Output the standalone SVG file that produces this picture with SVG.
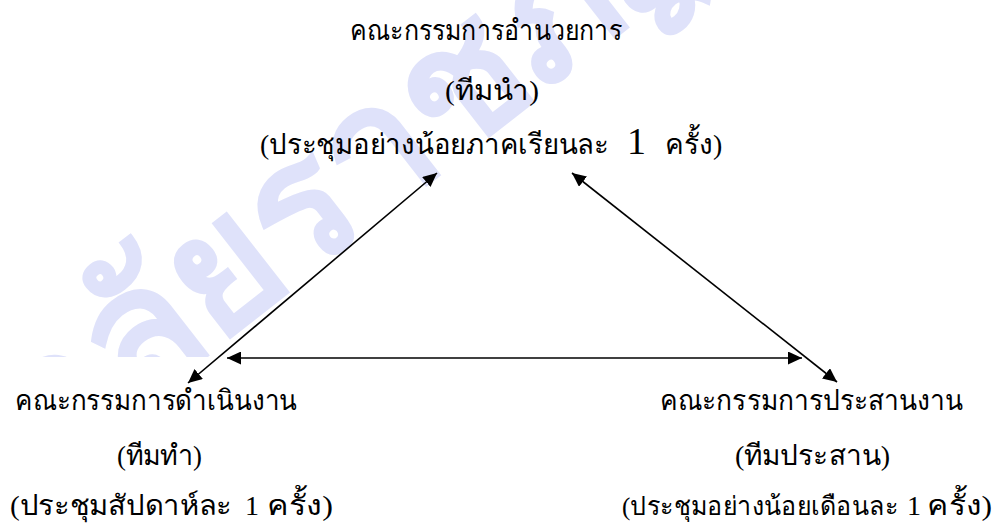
<svg xmlns="http://www.w3.org/2000/svg" width="1003" height="530" viewBox="0 0 1003 530">
<style>
  .t { font-family: "Liberation Serif", serif; font-size: 28px; fill: #000; }
  .wm { font-family: "Liberation Sans", sans-serif; font-size: 175px; font-weight: bold; fill: #dfe2fa; }
  .c { stroke: #000; stroke-width: 1.6; fill: none; }
</style>
<defs>
  <marker id="ah" viewBox="0 0 14 13" refX="14" refY="6.5" markerWidth="14" markerHeight="13" markerUnits="userSpaceOnUse" orient="auto-start-reverse">
    <path d="M0,0 L14,6.5 L0,13 z" fill="#000"/>
  </marker>
  <clipPath id="wmclip"><rect x="0" y="0" width="1003" height="357"/></clipPath>
</defs>
<rect width="1003" height="530" fill="#fff"/>
<g id="watermark" clip-path="url(#wmclip)">
  <text class="wm" transform="translate(133,412) rotate(-38)"><tspan x="0" y="0" text-anchor="end">วิทยา</tspan><tspan x="0" y="0" text-anchor="start">ลัยราชภัฏ</tspan></text>
</g>
<g id="node-top">
  <text class="t" x="350" y="40" textLength="272" lengthAdjust="spacingAndGlyphs">คณะกรรมการอำนวยการ</text>
  <text class="t" x="445" y="100" textLength="94" lengthAdjust="spacingAndGlyphs">(ทีมนำ)</text>
  <text class="t" y="154"><tspan x="260" textLength="349" lengthAdjust="spacingAndGlyphs">(ประชุมอย่างน้อยภาคเรียนละ</tspan><tspan x="627" font-size="38">1</tspan><tspan x="665">ครั้ง)</tspan></text>
</g>
<g id="node-left">
  <text class="t" x="15" y="410" textLength="282" lengthAdjust="spacingAndGlyphs">คณะกรรมการดำเนินงาน</text>
  <text class="t" x="117" y="465" textLength="85" lengthAdjust="spacingAndGlyphs">(ทีมทำ)</text>
  <text class="t" y="515"><tspan x="10" textLength="222" lengthAdjust="spacingAndGlyphs">(ประชุมสัปดาห์ละ</tspan><tspan x="245">1</tspan><tspan x="267" textLength="66" lengthAdjust="spacingAndGlyphs">ครั้ง)</tspan></text>
</g>
<g id="node-right">
  <text class="t" x="660" y="410" textLength="303" lengthAdjust="spacingAndGlyphs">คณะกรรมการประสานงาน</text>
  <text class="t" x="735" y="465" textLength="155" lengthAdjust="spacingAndGlyphs">(ทีมประสาน)</text>
  <text class="t" y="515"><tspan x="622" font-size="26" textLength="276" lengthAdjust="spacingAndGlyphs">(ประชุมอย่างน้อยเดือนละ</tspan><tspan x="907">1</tspan><tspan x="927" textLength="65" lengthAdjust="spacingAndGlyphs">ครั้ง)</tspan></text>
</g>
<g id="connectors">
  <line class="c" x1="437" y1="173" x2="188" y2="383" marker-start="url(#ah)" marker-end="url(#ah)"/>
  <line class="c" x1="572" y1="173" x2="837" y2="382" marker-start="url(#ah)" marker-end="url(#ah)"/>
  <line class="c" x1="227" y1="358" x2="802" y2="358" stroke-width="2" marker-start="url(#ah)" marker-end="url(#ah)"/>
</g>
</svg>
